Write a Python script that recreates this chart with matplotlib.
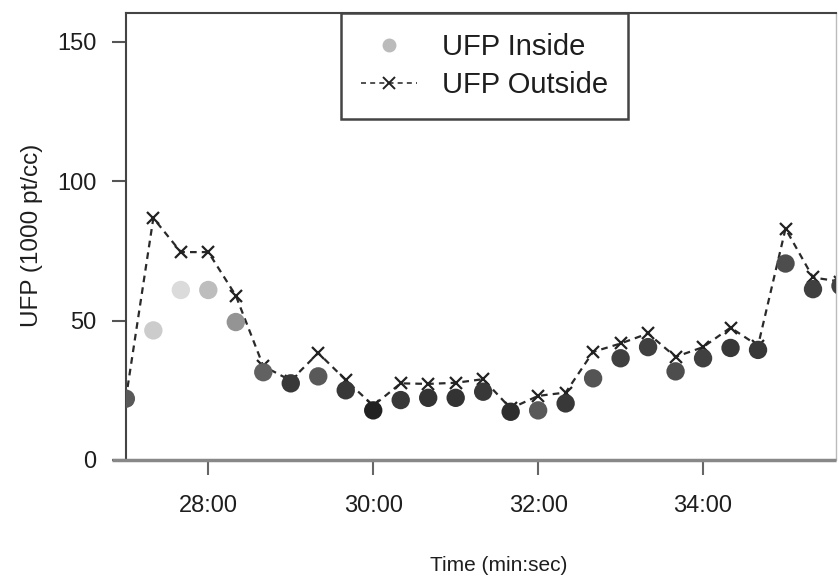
import matplotlib
matplotlib.use("Agg")
import matplotlib.pyplot as plt
from matplotlib.lines import Line2D

plt.rcParams["font.family"] = ["Liberation Sans", "DejaVu Sans"]

# sample times (min:sec), one reading every 20 s
times = ["27:00", "27:20", "27:40", "28:00", "28:20", "28:40", "29:00", "29:20", "29:40",
         "30:00", "30:20", "30:40", "31:00", "31:20", "31:40", "32:00", "32:20", "32:40",
         "33:00", "33:20", "33:40", "34:00", "34:20", "34:40", "35:00", "35:20", "35:40"]
# UFP concentration, 1000 pt/cc
ufp_inside = [22, 46.5, 61, 61, 49.5, 31.5, 27.5, 30, 25, 17.8, 21.5, 22.3, 22.3, 24.5,
              17.3, 17.8, 20.3, 29.3, 36.5, 40.5, 31.8, 36.5, 40.2, 39.5, 70.5, 61.3, 62.5]
ufp_outside = [22, 86.8, 74.6, 74.6, 59, 33.7, 28.5, 38.4, 28.7, 19.5, 27.5, 27.3, 27.7, 29,
               18.5, 23, 24.2, 38.8, 41.8, 45.4, 37, 40.5, 47.5, 41, 83, 65.5, 64]
# grey level of each inside point (0 = black, 1 = white)
inside_grey = [0.35, 0.80, 0.86, 0.74, 0.58, 0.38, 0.22, 0.35, 0.22, 0.13, 0.22, 0.20, 0.20, 0.22,
               0.18, 0.35, 0.22, 0.33, 0.25, 0.25, 0.30, 0.25, 0.22, 0.22, 0.30, 0.25, 0.25]

tick_minutes = [28, 30, 32, 34]
tick_labels = ["28:00", "30:00", "32:00", "34:00"]


def to_minutes(s):
    m, sec = s.split(":")
    return int(m) + int(sec) / 60


t = [to_minutes(s) for s in times]
text_col = "#1e1e1e"

fig = plt.figure(figsize=(8.39, 5.81), dpi=100)
ax = fig.add_axes([0.150, 0.2083, 0.8464, 0.7693])

ax.plot(t, ufp_outside, linestyle=(0, (3, 2.3)), color="#2a2a2a", linewidth=1.6,
        marker="x", markersize=8, markeredgewidth=1.6, markeredgecolor="#222222", zorder=2)
ax.scatter(t, ufp_inside, s=175, c=[str(g) for g in inside_grey], edgecolors="none", zorder=3)

ax.set_xlim(27.0, 35.612)
ax.set_ylim(0, 160.4)

ax.set_yticks([0, 50, 100, 150])
ax.set_xticks(tick_minutes)
ax.set_xticklabels(tick_labels)
ax.tick_params(axis="y", direction="out", length=10, width=1.5, color="#555555",
               labelsize=17, pad=11, labelcolor=text_col)
ax.tick_params(axis="x", direction="out", length=11, width=1.5, color="#666666",
               labelsize=17, pad=14, labelcolor=text_col)

for side in ["left", "top", "right"]:
    ax.spines[side].set_color("#444444")
    ax.spines[side].set_linewidth(1.5)
ax.spines["right"].set_color("#bbbbbb")
ax.spines["right"].set_linewidth(1.0)
ax.spines["bottom"].set_visible(False)
# heavier grey base line, running a little past the y axis
ax.plot([-0.02, 1.0], [0, 0], transform=ax.transAxes, color="#888888", linewidth=2.5,
        clip_on=False, zorder=4, solid_capstyle="butt")

ax.set_xlabel("Time (min:sec)", fontsize=15, color=text_col)
ax.xaxis.set_label_coords(0.525, -0.235)
ax.xaxis.label.set_va("center")
ax.set_ylabel("UFP (1000 pt/cc)", fontsize=17.5, color=text_col)
ax.yaxis.set_label_coords(-0.132, 0.502)
ax.yaxis.label.set_va("center")

handles = [
    Line2D([], [], linestyle="none", marker="o", markersize=9, color="#bbbbbb"),
    Line2D([], [], linestyle=(0, (3, 2.5)), color="#333333", linewidth=1.2,
           marker="x", markersize=9, markeredgewidth=1.4, markeredgecolor="#222222"),
]
leg = ax.legend(handles, ["UFP Inside", "UFP Outside"], loc="upper center",
                bbox_to_anchor=(0.505, 1.0), borderaxespad=0, fontsize=21,
                fancybox=False, framealpha=1, edgecolor="#444444",
                handlelength=1.9, handletextpad=0.85, labelspacing=0.33,
                borderpad=0.7)
leg.get_frame().set_linewidth(1.8)
for txt in leg.get_texts():
    txt.set_color(text_col)

fig.savefig("out.png", dpi=100)
